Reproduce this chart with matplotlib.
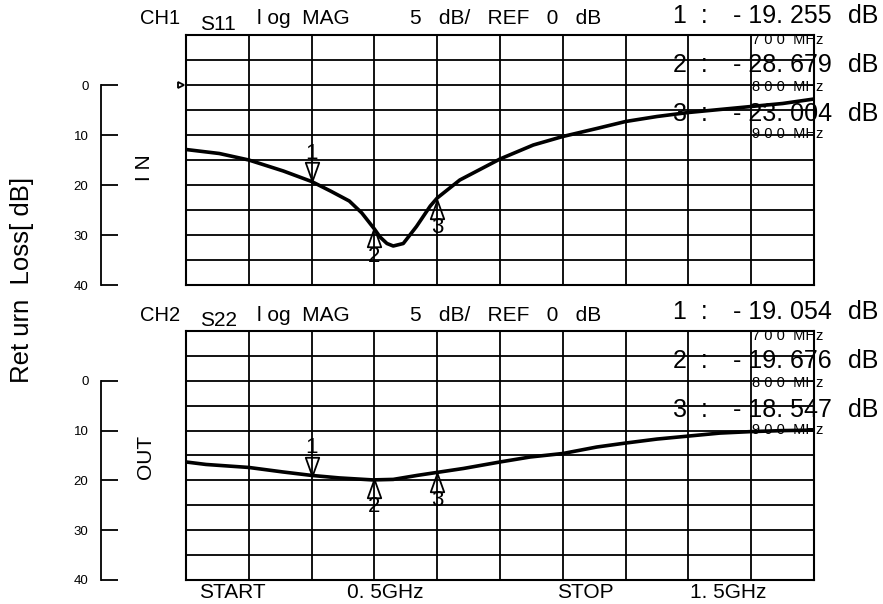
import matplotlib
matplotlib.use("Agg")
import matplotlib.pyplot as plt
import numpy as np
from matplotlib.path import Path
from matplotlib.transforms import blended_transform_factory

W, H = 883, 604

# traces: frequency (GHz) vs return loss (dB)
freq_s11 = [0.50, 0.553, 0.60, 0.655, 0.70, 0.73, 0.76, 0.78, 0.80, 0.809,
            0.82, 0.83, 0.846, 0.867, 0.889, 0.90, 0.936, 1.00, 1.053, 1.10,
            1.154, 1.20, 1.25, 1.30, 1.40, 1.45, 1.50]
loss_s11 = [12.9, 13.7, 15.0, 17.2, 19.3, 21.2, 23.2, 25.6, 28.8, 30.4,
            31.7, 32.2, 31.7, 28.3, 24.2, 22.6, 19.0, 14.8, 12.0, 10.3,
            8.7, 7.3, 6.3, 5.5, 4.3, 3.7, 2.8]
freq_s22 = [0.50, 0.532, 0.60, 0.654, 0.70, 0.744, 0.797, 0.83, 0.868, 0.889,
            0.942, 1.00, 1.048, 1.10, 1.154, 1.20, 1.25, 1.30, 1.35, 1.40,
            1.45, 1.50]
loss_s22 = [16.3, 16.8, 17.4, 18.3, 19.0, 19.5, 19.9, 19.8, 19.0, 18.6,
            17.6, 16.3, 15.3, 14.6, 13.3, 12.5, 11.7, 11.1, 10.5, 10.2,
            10.0, 9.9]

marker_freq = [0.7, 0.8, 0.9]
marker_s11 = [19.255, 28.679, 23.004]
marker_s22 = [19.054, 19.676, 18.547]
marker_mhz = ["7 0 0  MHz", "8 0 0  MHz", "9 0 0  MHz"]
scale_ticks = [0, 10, 20, 30, 40]

plt.rcParams["font.family"] = ["Liberation Sans", "DejaVu Sans"]

fig = plt.figure(figsize=(W / 100, H / 100), dpi=100)

# open triangle whose tip sits on the point; body above (down) or below (up)
tri_down = Path([(0, 0), (-0.36, 1), (0.36, 1), (0, 0)],
                [Path.MOVETO, Path.LINETO, Path.LINETO, Path.CLOSEPOLY])
tri_up = Path([(0, 0), (-0.36, -1), (0.36, -1), (0, 0)],
              [Path.MOVETO, Path.LINETO, Path.LINETO, Path.CLOSEPOLY])


def text_px(x, y, s, size, **kw):
    kw.setdefault("va", "center")
    fig.text(x / W, 1 - y / H, s, fontsize=size, **kw)


def panel(top, bottom, freq, loss, m_loss, ch, sparam, port, port_y, ref_arrow):
    rect = [186 / W, 1 - bottom / H, 628 / W, (bottom - top) / H]
    ax = fig.add_axes(rect)
    ax.set_xlim(0.5, 1.5)
    ax.set_ylim(40, -10)
    ax.set_xticks(np.arange(0.5, 1.51, 0.1))
    ax.set_yticks(np.arange(-10, 41, 5))
    ax.grid(True, color="black", linewidth=1.3)
    ax.tick_params(length=0, labelbottom=False, labelleft=False)
    for s in ax.spines.values():
        s.set_linewidth(1.5)
    ax.plot(freq, loss, color="black", linewidth=2.6, zorder=3)

    for i, (f, v) in enumerate(zip(marker_freq, m_loss)):
        down = i == 0
        ax.plot(f, v, marker=tri_down if down else tri_up, markersize=27,
                mfc="none", mec="black", mew=1.3, zorder=4)
        ax.annotate(str(i + 1), (f, v), xytext=(0, 20 if down else -20),
                    textcoords="offset points", ha="center", va="center",
                    fontsize=16, zorder=5)

    if ref_arrow:
        tr = blended_transform_factory(ax.transAxes, ax.transData)
        ax.plot(-0.008, 0, marker=">", markersize=5, mfc="white", mec="black",
                mew=1.3, transform=tr, clip_on=False)

    # loss scale bracket on the left
    sc = fig.add_axes([101 / W, rect[1], 0.0001, rect[3]])
    sc.set_ylim(40, -10)
    sc.set_xticks([])
    sc.set_yticks(scale_ticks)
    sc.patch.set_alpha(0)
    for name in ("top", "right", "bottom"):
        sc.spines[name].set_visible(False)
    sc.spines["left"].set_bounds(0, 40)
    sc.spines["left"].set_linewidth(1.3)
    sc.tick_params(axis="y", direction="in", length=12, width=1.3, pad=9,
                   labelsize=9.5)

    dy = top - 35
    text_px(140, 19 + dy, ch, 14.5)
    text_px(200, 25 + dy, sparam, 15)
    text_px(257, 19 + dy, "l og  MAG", 15)
    text_px(410, 19 + dy, "5   dB/   REF   0   dB", 15)
    for i, v in enumerate(m_loss):
        y = 16 + dy + 49 * i
        text_px(673, y, f"{i + 1}  :", 18)
        text_px(733, y, f"- {v:.3f}".replace(".", ". "), 18)
        text_px(848, y, "dB", 18)
        text_px(752, 40 + dy + 47 * i, marker_mhz[i], 10.5)
    text_px(145, port_y, port, 15, rotation=90, ha="center")
    return ax


panel(35, 285, freq_s11, loss_s11, marker_s11, "CH1", "S11", "I N", 168, True)
panel(331, 580, freq_s22, loss_s22, marker_s22, "CH2", "S22", "OUT", 457, False)

text_px(22, 280, "Ret urn  Loss[ dB]", 18.5, rotation=90, ha="center")
text_px(232, 593, "START", 15, ha="center")
text_px(385, 593, "0. 5GHz", 15, ha="center")
text_px(585, 593, "STOP", 15, ha="center")
text_px(728, 593, "1. 5GHz", 15, ha="center")

fig.savefig("out.png", dpi=100)
